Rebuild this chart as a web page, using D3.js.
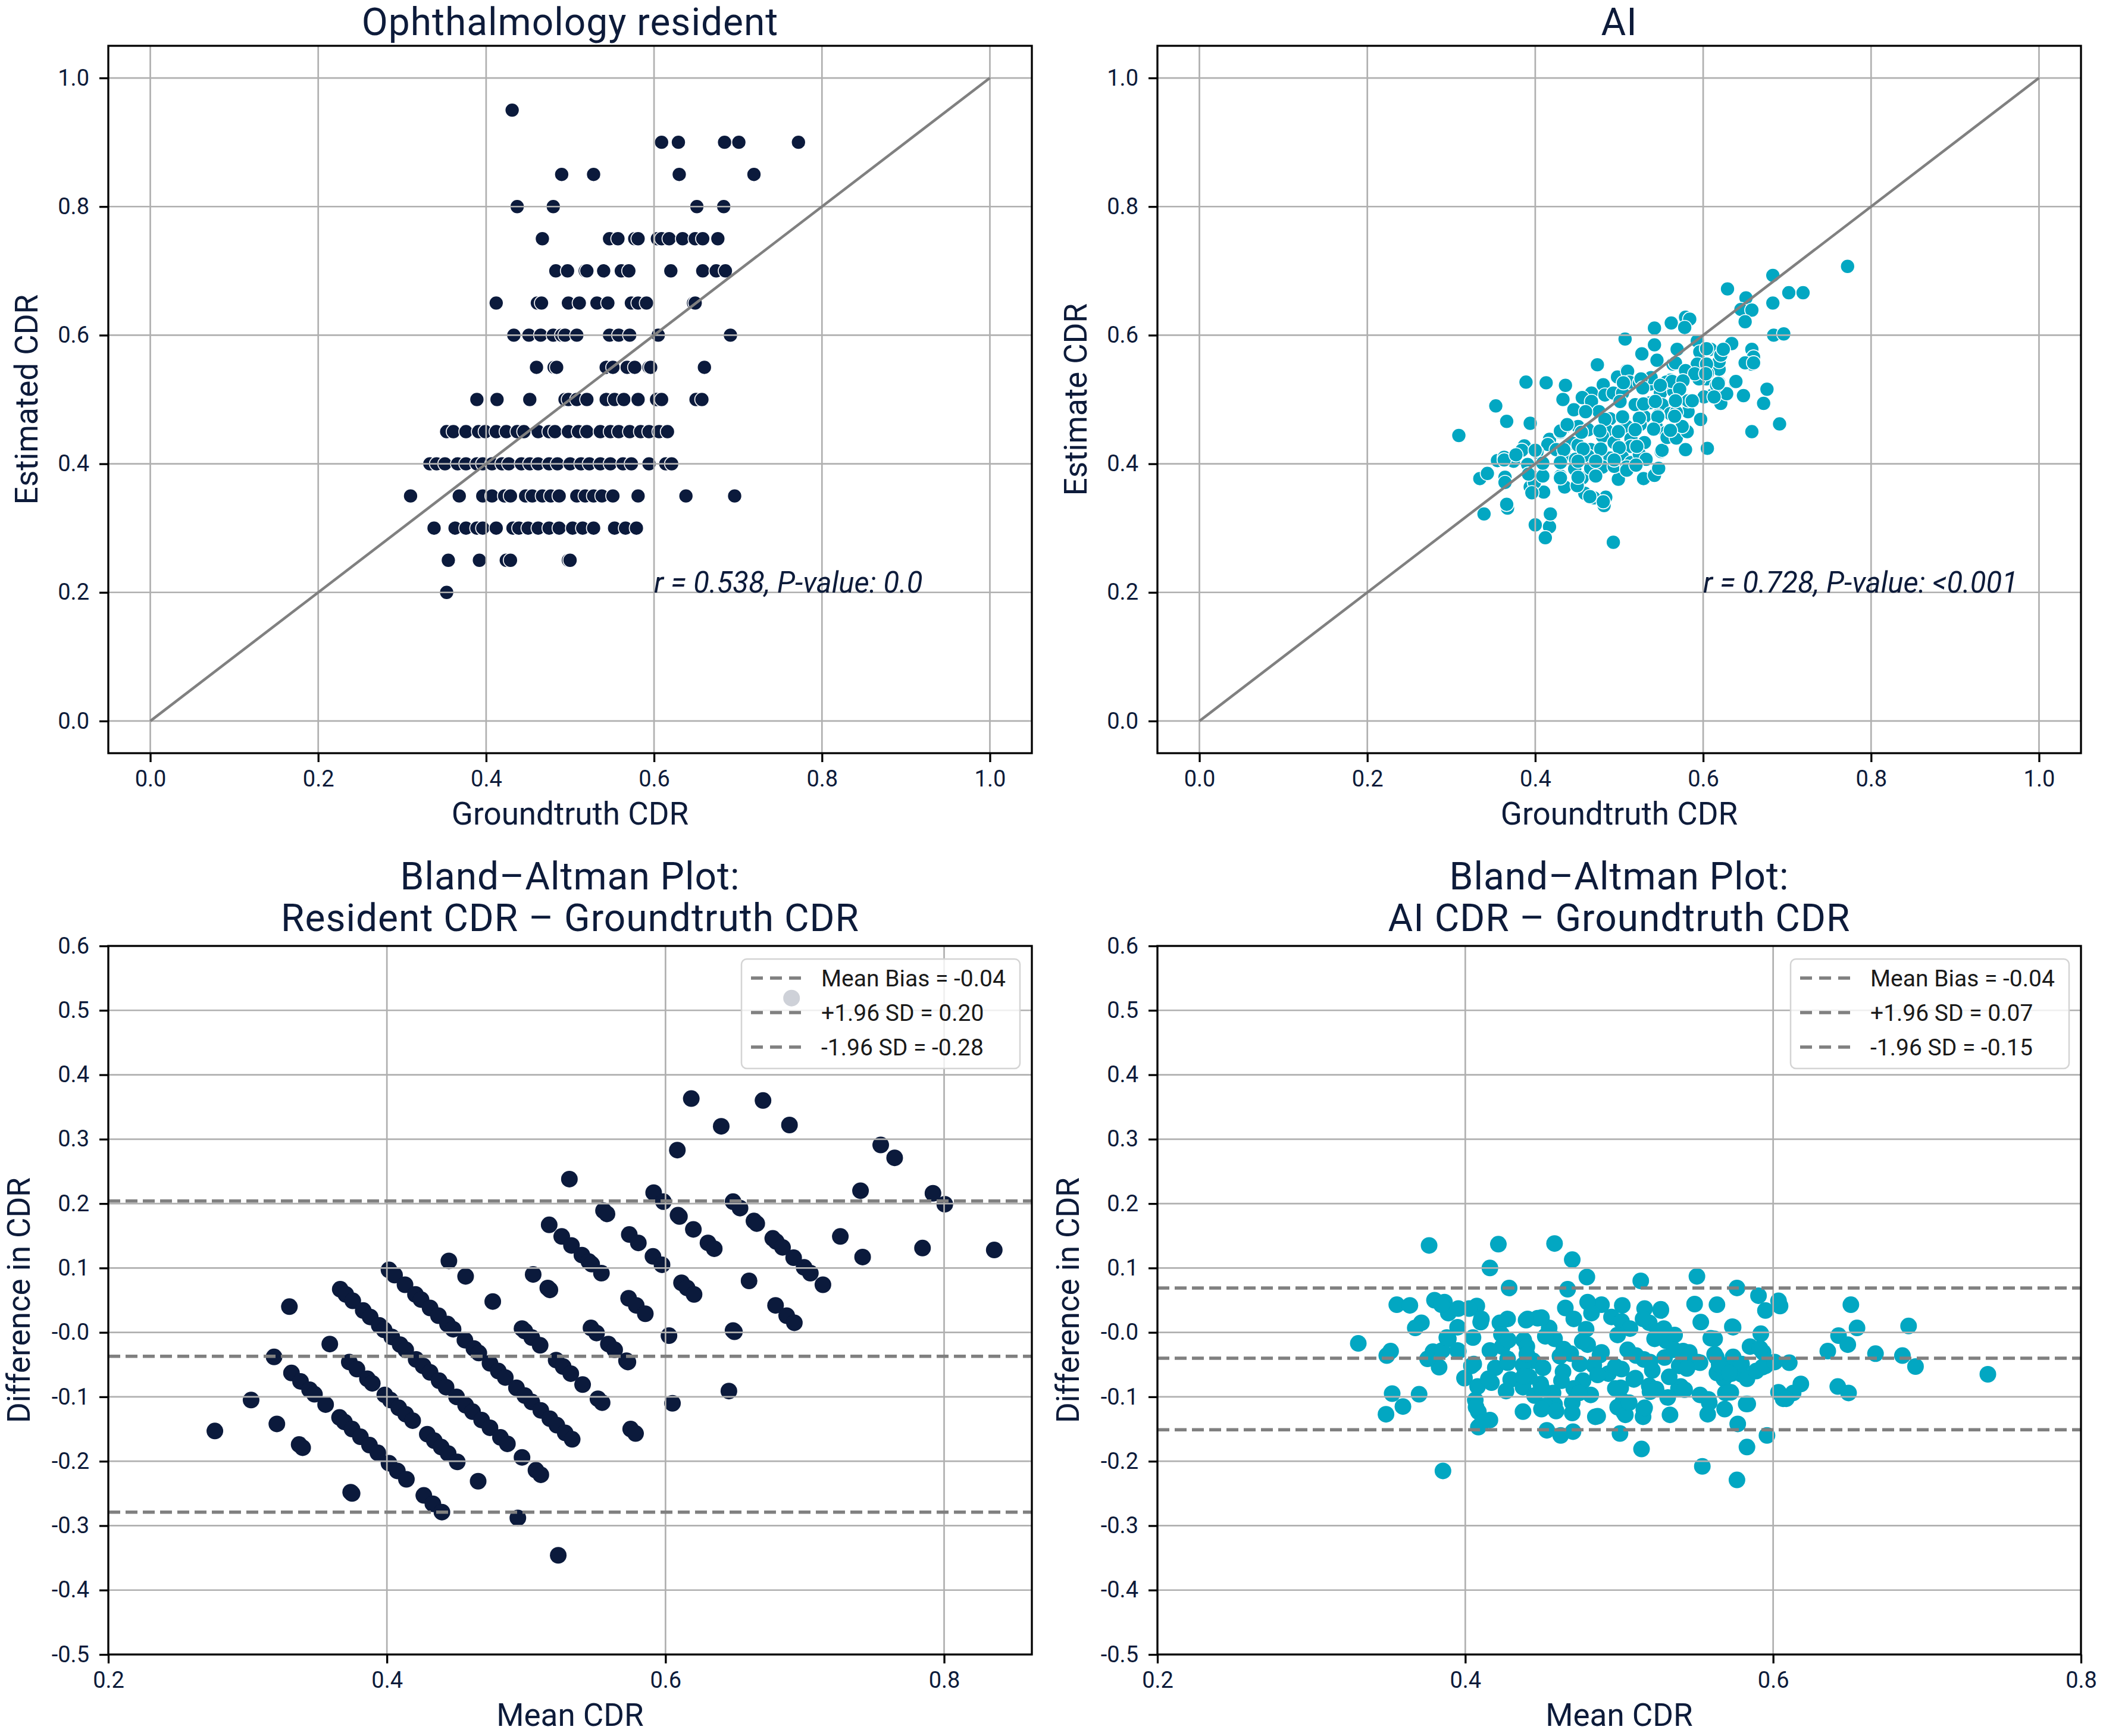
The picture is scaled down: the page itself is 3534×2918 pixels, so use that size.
<!DOCTYPE html>
<html>
<head>
<meta charset="utf-8">
<script src="https://cdn.jsdelivr.net/npm/d3@7"></script>
<style>
  body { margin: 0; background: #fff; }
  text { font-family: Roboto, "Noto Sans", sans-serif; }
</style>
</head>
<body>
<div id="chart"></div>
<script>
// resident estimates are given in 0.05 steps: one list of groundtruth values per level
const residentLevels = [0.95, 0.90, 0.85, 0.80, 0.75, 0.70, 0.65, 0.60, 0.55, 0.50, 0.45, 0.40, 0.35, 0.30, 0.25, 0.20];
const residentGroundtruth = [
  [0.431],
  [0.609, 0.629, 0.684, 0.701, 0.772],
  [0.490, 0.528, 0.630, 0.719],
  [0.437, 0.480, 0.651, 0.683],
  [0.467, 0.547, 0.557, 0.577, 0.581, 0.604, 0.609, 0.618, 0.634, 0.649, 0.658, 0.676],
  [0.483, 0.497, 0.518, 0.520, 0.540, 0.561, 0.570, 0.620, 0.658, 0.674, 0.685],
  [0.412, 0.461, 0.466, 0.498, 0.511, 0.532, 0.545, 0.573, 0.581, 0.591, 0.647, 0.649],
  [0.433, 0.451, 0.465, 0.480, 0.490, 0.494, 0.508, 0.547, 0.558, 0.571, 0.605, 0.691],
  [0.460, 0.481, 0.484, 0.543, 0.551, 0.568, 0.577, 0.594, 0.596, 0.660],
  [0.389, 0.413, 0.452, 0.494, 0.498, 0.508, 0.520, 0.543, 0.553, 0.564, 0.581, 0.603, 0.609, 0.650, 0.657],
  [0.353, 0.361, 0.376, 0.391, 0.399, 0.412, 0.424, 0.437, 0.445, 0.462, 0.475, 0.482, 0.498, 0.510, 0.520, 0.536, 0.548, 0.558, 0.571, 0.584, 0.594, 0.606, 0.616],
  [0.333, 0.341, 0.351, 0.366, 0.376, 0.389, 0.396, 0.407, 0.419, 0.427, 0.442, 0.452, 0.462, 0.475, 0.485, 0.500, 0.513, 0.523, 0.536, 0.548, 0.563, 0.573, 0.594, 0.614, 0.621],
  [0.310, 0.368, 0.396, 0.407, 0.422, 0.429, 0.447, 0.455, 0.467, 0.477, 0.487, 0.508, 0.518, 0.528, 0.538, 0.551, 0.581, 0.638, 0.696],
  [0.338, 0.363, 0.376, 0.389, 0.396, 0.412, 0.432, 0.439, 0.450, 0.462, 0.475, 0.487, 0.503, 0.515, 0.528, 0.553, 0.566, 0.579],
  [0.355, 0.392, 0.424, 0.429, 0.498, 0.500],
  [0.353]
];

// AI: [groundtruth, estimate]
const aiPairs = [
  [0.772, 0.707], [0.683, 0.693], [0.629, 0.672], [0.651, 0.658], [0.702, 0.666], [0.719, 0.666],
  [0.683, 0.650], [0.645, 0.640], [0.658, 0.639], [0.650, 0.621], [0.579, 0.628], [0.584, 0.625],
  [0.562, 0.619], [0.542, 0.611], [0.507, 0.594], [0.684, 0.600], [0.696, 0.602], [0.542, 0.585],
  [0.527, 0.571], [0.570, 0.578], [0.593, 0.591], [0.634, 0.587], [0.658, 0.578], [0.660, 0.566],
  [0.658, 0.555], [0.474, 0.554], [0.545, 0.561], [0.609, 0.578], [0.620, 0.566], [0.601, 0.551],
  [0.509, 0.545], [0.389, 0.527], [0.413, 0.526], [0.436, 0.522], [0.619, 0.526], [0.638, 0.527],
  [0.676, 0.516], [0.648, 0.506], [0.672, 0.494], [0.691, 0.462], [0.658, 0.450], [0.621, 0.494],
  [0.610, 0.506], [0.628, 0.509], [0.353, 0.490], [0.366, 0.466], [0.394, 0.463], [0.309, 0.444],
  [0.433, 0.500], [0.597, 0.469], [0.605, 0.424], [0.579, 0.422], [0.550, 0.419], [0.334, 0.377],
  [0.343, 0.385], [0.364, 0.379], [0.339, 0.322], [0.367, 0.331], [0.366, 0.337], [0.400, 0.305],
  [0.417, 0.302], [0.418, 0.322], [0.412, 0.285], [0.493, 0.278], [0.482, 0.335], [0.484, 0.348],
  [0.459, 0.354], [0.435, 0.364], [0.410, 0.356], [0.394, 0.364], [0.499, 0.376], [0.529, 0.377],
  [0.542, 0.382], [0.547, 0.393], [0.374, 0.404], [0.387, 0.428], [0.417, 0.438], [0.430, 0.449],
  [0.436, 0.458], [0.446, 0.484], [0.481, 0.523], [0.498, 0.535], [0.467, 0.510],
  [0.355, 0.405], [0.363, 0.410], [0.384, 0.421], [0.391, 0.399], [0.394, 0.384], [0.399, 0.371],
  [0.410, 0.381], [0.364, 0.371], [0.415, 0.430], [0.589, 0.541], [0.599, 0.547], [0.612, 0.547],
  [0.594, 0.535], [0.604, 0.532], [0.619, 0.547], [0.601, 0.504], [0.650, 0.557],
  [0.564, 0.555], [0.596, 0.574], [0.605, 0.541], [0.595, 0.532], [0.582, 0.544], [0.510, 0.544],
  [0.512, 0.527], [0.524, 0.526], [0.537, 0.524], [0.549, 0.510], [0.561, 0.530], [0.574, 0.528],
  [0.565, 0.513], [0.456, 0.503], [0.467, 0.497], [0.483, 0.507], [0.493, 0.510], [0.504, 0.510],
  [0.519, 0.492], [0.537, 0.495], [0.551, 0.492], [0.561, 0.478], [0.582, 0.495], [0.582, 0.481],
  [0.476, 0.481], [0.489, 0.470], [0.505, 0.470], [0.530, 0.473], [0.546, 0.475], [0.451, 0.458],
  [0.463, 0.453], [0.485, 0.452], [0.509, 0.458], [0.525, 0.461], [0.544, 0.458], [0.556, 0.449],
  [0.576, 0.456], [0.565, 0.441], [0.425, 0.422], [0.444, 0.432], [0.451, 0.429], [0.466, 0.422],
  [0.480, 0.443], [0.494, 0.433], [0.514, 0.439], [0.514, 0.427], [0.530, 0.433], [0.551, 0.421],
  [0.402, 0.418], [0.435, 0.413], [0.448, 0.407], [0.463, 0.412], [0.476, 0.407], [0.489, 0.409],
  [0.504, 0.410], [0.514, 0.402], [0.524, 0.415], [0.532, 0.407], [0.392, 0.384], [0.409, 0.381],
  [0.430, 0.381], [0.456, 0.378], [0.447, 0.392], [0.466, 0.393], [0.480, 0.395], [0.494, 0.396],
  [0.509, 0.395], [0.470, 0.347], [0.481, 0.341],
  [0.363, 0.406], [0.377, 0.414], [0.400, 0.421], [0.430, 0.451], [0.438, 0.461], [0.460, 0.481],
  [0.567, 0.557], [0.538, 0.534], [0.505, 0.526], [0.526, 0.532], [0.396, 0.355], [0.450, 0.366],
  [0.465, 0.349], [0.509, 0.390], [0.520, 0.398], [0.557, 0.441], [0.568, 0.440], [0.581, 0.450],
  [0.616, 0.522], [0.593, 0.555], [0.619, 0.559], [0.604, 0.579], [0.570, 0.523], [0.556, 0.527],
  [0.569, 0.578], [0.621, 0.569], [0.624, 0.578], [0.660, 0.557], [0.579, 0.545], [0.590, 0.540],
  [0.604, 0.555], [0.603, 0.540], [0.563, 0.528], [0.576, 0.529], [0.618, 0.525], [0.639, 0.528],
  [0.613, 0.504], [0.582, 0.498], [0.568, 0.480], [0.575, 0.458], [0.561, 0.452], [0.578, 0.612],
  [0.409, 0.401], [0.434, 0.422], [0.455, 0.449], [0.483, 0.469], [0.501, 0.497], [0.528, 0.518],
  [0.430, 0.402], [0.457, 0.423], [0.477, 0.451], [0.504, 0.473], [0.529, 0.493], [0.549, 0.522],
  [0.430, 0.378], [0.451, 0.404], [0.478, 0.423], [0.499, 0.450], [0.524, 0.471], [0.543, 0.497],
  [0.572, 0.516], [0.451, 0.379], [0.472, 0.404], [0.500, 0.425], [0.519, 0.453], [0.546, 0.473],
  [0.567, 0.498], [0.472, 0.381], [0.494, 0.406], [0.521, 0.427], [0.541, 0.454], [0.566, 0.474],
  [0.587, 0.498]
];

const scatterTicks = [0, 0.2, 0.4, 0.6, 0.8, 1.0];
const scatterTickLabels = ["0.0", "0.2", "0.4", "0.6", "0.8", "1.0"];
const baXTicks = [0.2, 0.4, 0.6, 0.8];
const baXTickLabels = ["0.2", "0.4", "0.6", "0.8"];
const baYTicks = [0.6, 0.5, 0.4, 0.3, 0.2, 0.1, 0, -0.1, -0.2, -0.3, -0.4, -0.5];
const baYTickLabels = ["0.6", "0.5", "0.4", "0.3", "0.2", "0.1", "-0.0", "-0.1", "-0.2", "-0.3", "-0.4", "-0.5"];

// mean bias, +1.96 SD, -1.96 SD
const residentLimits = [-0.037, 0.204, -0.279];
const residentLegend = ["Mean Bias = -0.04", "+1.96 SD = 0.20", "-1.96 SD = -0.28"];
const aiLimits = [-0.040, 0.069, -0.151];
const aiLegend = ["Mean Bias = -0.04", "+1.96 SD = 0.07", "-1.96 SD = -0.15"];

const navy = "#0b1a3c";
const teal = "#02a7c2";
const textColor = "#0d1b3a";

const residentPairs = residentLevels.flatMap((lv, i) => residentGroundtruth[i].map(g => [g, lv]));

function blandAltman(pairs) {
    return pairs.map(([g, e]) => [(g + e) / 2, e - g]);
}

const svg = d3.select("#chart")
    .append("svg")
    .attr("width", 3534)
    .attr("height", 2918);

svg.append("rect").attr("width", 3534).attr("height", 2918).attr("fill", "#fff");

function makePanel(opt) {
    const g = svg.append("g").attr("transform", `translate(${opt.left},${opt.top})`);
    const x = d3.scaleLinear().domain(opt.xDomain).range([0, opt.width]);
    const y = d3.scaleLinear().domain(opt.yDomain).range([opt.height, 0]);

    const clipId = "clip" + opt.left + "_" + opt.top;
    g.append("clipPath").attr("id", clipId)
        .append("rect").attr("width", opt.width).attr("height", opt.height);

    const points = g.append("g").attr("clip-path", `url(#${clipId})`);
    const grid = g.append("g").attr("clip-path", `url(#${clipId})`);
    const lines = g.append("g").attr("clip-path", `url(#${clipId})`);

    // grid lines sit above the markers, as in the original
    grid.selectAll(".gx").data(opt.xTicks).join("line")
        .attr("x1", d => x(d)).attr("x2", d => x(d))
        .attr("y1", 0).attr("y2", opt.height)
        .attr("stroke", "#b0b0b0").attr("stroke-width", 2.7);
    grid.selectAll(".gy").data(opt.yTicks).join("line")
        .attr("y1", d => y(d)).attr("y2", d => y(d))
        .attr("x1", 0).attr("x2", opt.width)
        .attr("stroke", "#b0b0b0").attr("stroke-width", 2.7);

    const xAxis = g.append("g")
        .attr("transform", `translate(0,${opt.height})`)
        .call(d3.axisBottom(x).tickValues(opt.xTicks)
            .tickFormat((d, i) => opt.xLabels[i]).tickSize(15).tickPadding(14));
    const yAxis = g.append("g")
        .call(d3.axisLeft(y).tickValues(opt.yTicks)
            .tickFormat((d, i) => opt.yLabels[i]).tickSize(15).tickPadding(17));
    [xAxis, yAxis].forEach(a => {
        a.select(".domain").remove();
        a.selectAll(".tick line").attr("stroke", "#000").attr("stroke-width", 3.3);
        a.selectAll(".tick text").attr("font-size", 38).attr("fill", textColor)
            .style("font-family", "Roboto, sans-serif");
    });

    g.append("rect")
        .attr("width", opt.width).attr("height", opt.height)
        .attr("fill", "none").attr("stroke", "#000").attr("stroke-width", 3.3);

    // title (one or more lines, last line sits closest to the axes)
    const titleLines = opt.title;
    g.selectAll(".title").data(titleLines).join("text")
        .attr("x", opt.width / 2)
        .attr("y", (d, i) => -opt.titleGap - (titleLines.length - 1 - i) * 70)
        .attr("text-anchor", "middle")
        .attr("font-size", 64)
        .attr("letter-spacing", 1)
        .attr("fill", textColor)
        .text(d => d);

    g.append("text")
        .attr("x", opt.width / 2)
        .attr("y", opt.height + 120)
        .attr("text-anchor", "middle")
        .attr("font-size", 53)
        .attr("fill", textColor)
        .text(opt.xTitle);

    g.append("text")
        .attr("transform", `translate(${-opt.yTitleGap},${opt.height / 2}) rotate(-90)`)
        .attr("text-anchor", "middle")
        .attr("font-size", 53)
        .attr("fill", textColor)
        .text(opt.yTitle);

    return { g, x, y, points, lines };
}

function scatterPanel(left, title, yTitle, pairs, color, note) {
    const p = makePanel({
        left: left, top: 77, width: 1552, height: 1189,
        xDomain: [-0.05, 1.05], yDomain: [-0.05, 1.05],
        xTicks: scatterTicks, xLabels: scatterTickLabels,
        yTicks: scatterTicks, yLabels: scatterTickLabels,
        title: [title], titleGap: 18,
        xTitle: "Groundtruth CDR", yTitle: yTitle, yTitleGap: 119
    });
    p.points.selectAll("circle").data(pairs).join("circle")
        .attr("cx", d => p.x(d[0]))
        .attr("cy", d => p.y(d[1]))
        .attr("r", 12)
        .attr("fill", color)
        .attr("stroke", "#fff")
        .attr("stroke-width", 1.6);
    p.lines.append("line")
        .attr("x1", p.x(0)).attr("y1", p.y(0))
        .attr("x2", p.x(1)).attr("y2", p.y(1))
        .attr("stroke", "#808080").attr("stroke-width", 4.5);
    p.g.append("text")
        .attr("x", p.x(0.6)).attr("y", p.y(0.2))
        .attr("font-size", 49)
        .attr("font-style", "italic")
        .attr("fill", textColor)
        .text(note);
}

function blandAltmanPanel(left, titleLines, pairs, color, xDomain, limits, legendLabels) {
    const p = makePanel({
        left: left, top: 1590, width: 1552, height: 1191,
        xDomain: xDomain, yDomain: [-0.5, 0.6],
        xTicks: baXTicks, xLabels: baXTickLabels,
        yTicks: baYTicks, yLabels: baYTickLabels,
        title: titleLines, titleGap: 25,
        xTitle: "Mean CDR", yTitle: "Difference in CDR", yTitleGap: 132
    });
    p.points.selectAll("circle").data(blandAltman(pairs)).join("circle")
        .attr("cx", d => p.x(d[0]))
        .attr("cy", d => p.y(d[1]))
        .attr("r", 14)
        .attr("fill", color);
    p.lines.selectAll("line").data(limits).join("line")
        .attr("x1", 0).attr("x2", 1552)
        .attr("y1", d => p.y(d)).attr("y2", d => p.y(d))
        .attr("stroke", "#808080").attr("stroke-width", 5.5)
        .attr("stroke-dasharray", "20,9");

    const legend = p.g.append("g").attr("transform", "translate(1064,22)");
    legend.append("rect")
        .attr("width", 468).attr("height", 184)
        .attr("rx", 9)
        .attr("fill", "#fff").attr("fill-opacity", 0.8)
        .attr("stroke", "#d4d4d4").attr("stroke-width", 2.5);
    const rows = legend.selectAll(".row").data(legendLabels).join("g")
        .attr("transform", (d, i) => `translate(0,${32 + i * 58})`);
    rows.append("line")
        .attr("x1", 16).attr("x2", 100)
        .attr("stroke", "#808080").attr("stroke-width", 5.5)
        .attr("stroke-dasharray", "20,12");
    rows.append("text")
        .attr("x", 134)
        .attr("dy", "0.35em")
        .attr("font-size", 39)
        .attr("fill", "#1a1a1a")
        .text(d => d);
}

scatterPanel(182, "Ophthalmology resident", "Estimated CDR", residentPairs, navy, "r = 0.538, P-value: 0.0");
scatterPanel(1945, "AI", "Estimate CDR", aiPairs, teal, "r = 0.728, P-value: <0.001");

blandAltmanPanel(182, ["Bland–Altman Plot:", "Resident CDR – Groundtruth CDR"],
    residentPairs, navy, [0.2, 0.863], residentLimits, residentLegend);
blandAltmanPanel(1945, ["Bland–Altman Plot:", "AI CDR – Groundtruth CDR"],
    aiPairs, teal, [0.2, 0.8], aiLimits, aiLegend);
</script>
</body>
</html>
